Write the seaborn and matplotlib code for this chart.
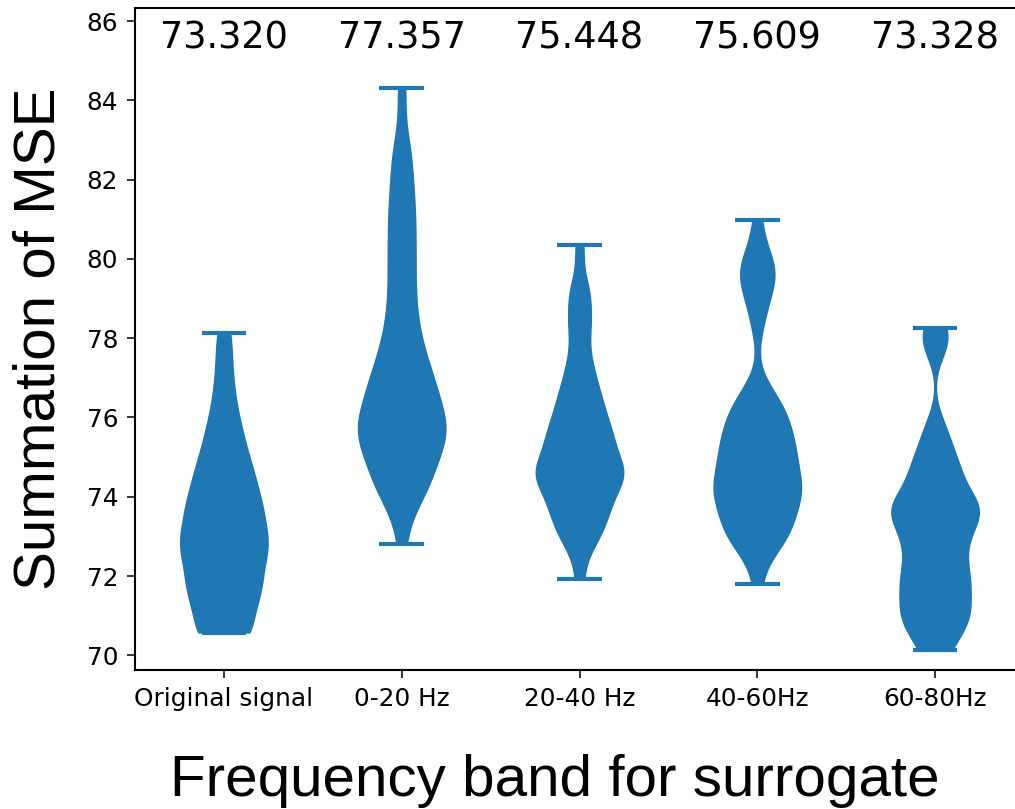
import numpy as np
import pandas as pd
import matplotlib
matplotlib.use("Agg")
import matplotlib.pyplot as plt
import seaborn as sns

# Categories and mean labels shown above each violin
categories = ["Original signal", "0-20 Hz", "20-40 Hz", "40-60Hz", "60-80Hz"]
mean_labels = ["73.320", "77.357", "75.448", "75.609", "73.328"]

# Sample values (summation of MSE) for each frequency band
original_signal = [70.56, 70.56, 70.56, 70.56, 71.29, 71.35, 71.38, 71.51, 71.89, 71.93, 72.04, 72.19,
                   72.50, 72.60, 72.65, 72.87, 72.92, 73.02, 73.18, 73.38, 73.66, 73.68, 73.75, 73.96,
                   74.16, 74.44, 74.46, 74.80, 74.90, 75.21, 75.56, 75.77, 76.25, 76.74, 77.41, 78.14]
band_0_20 = [72.82, 74.25, 74.26, 74.28, 74.28, 74.29, 75.17, 75.26, 75.26, 75.47, 75.49, 75.61,
             75.66, 75.80, 76.07, 76.09, 76.25, 76.65, 76.77, 76.78, 77.07, 77.29, 77.32, 77.98,
             78.07, 78.43, 79.17, 79.25, 80.11, 80.17, 80.84, 81.33, 81.60, 82.49, 82.71, 84.32]
band_20_40 = [71.93, 72.96, 72.96, 72.97, 73.53, 73.59, 73.63, 73.86, 73.86, 74.32, 74.41, 74.51,
              74.54, 74.54, 74.59, 74.59, 74.81, 75.09, 75.18, 75.19, 75.51, 75.59, 75.65, 75.85,
              75.97, 76.31, 76.45, 76.57, 76.92, 77.24, 77.54, 78.30, 78.36, 79.10, 79.19, 80.34]
band_40_60 = [71.79, 72.98, 73.01, 73.02, 73.03, 73.03, 73.21, 73.79, 73.88, 73.90, 74.13, 74.15,
              74.17, 74.18, 74.22, 74.58, 74.74, 74.95, 75.07, 75.09, 75.31, 75.34, 75.52, 75.81,
              75.85, 76.06, 76.39, 76.40, 76.49, 78.40, 79.01, 79.42, 79.76, 79.84, 79.85, 80.99]
band_60_80 = [70.13, 70.13, 70.60, 70.96, 70.96, 70.96, 70.96, 71.21, 71.62, 71.81, 71.83, 71.85,
              72.07, 72.21, 72.56, 72.74, 72.87, 72.99, 73.17, 73.57, 73.61, 73.61, 73.73, 73.74,
              73.77, 73.84, 74.07, 74.57, 74.77, 74.79, 74.83, 75.62, 75.62, 77.93, 77.93, 78.27]

arrays = [np.array(a) for a in (original_signal, band_0_20, band_20_40, band_40_60, band_60_80)]

c = "#1f77b4"
sns.set_theme(style="ticks")
plt.rcParams["font.family"] = ["DejaVu Sans"]
for k in ["text.color", "axes.labelcolor", "xtick.color", "ytick.color", "axes.edgecolor"]:
    plt.rcParams[k] = "black"

fig = plt.figure(figsize=(10.15, 8.09), dpi=100)
ax = fig.add_axes([135 / 1015, 1 - 670 / 809, 889 / 1015, 662 / 809])

df = pd.DataFrame({"band": np.repeat(categories, [len(a) for a in arrays]),
                   "mse": np.concatenate(arrays)})
sns.violinplot(data=df, x="band", y="mse", order=categories, color=c, saturation=1,
               width=0.5, cut=0, inner=None, linewidth=0, density_norm="width",
               bw_adjust=0.5, ax=ax)

# extrema bars (min / max) and centre line, like matplotlib's showextrema
for i, a in enumerate(arrays):
    ax.vlines(i, a.min(), a.max(), color=c, lw=2.2)
    ax.hlines([a.min(), a.max()], i - 0.125, i + 0.125, color=c, lw=3)

for i, m in enumerate(mean_labels):
    ax.text(i, 85.3, m, ha="center", va="baseline", fontsize=26.4)

ax.set_xlim(-0.5, 4.5)
ax.set_ylim(69.63, 86.33)
ax.set_yticks(range(70, 87, 2))
ax.tick_params(labelsize=17.8, length=6, width=1.1, pad=6, color="black")
ax.set_xlabel("Frequency band for surrogate", fontsize=42, fontfamily="Liberation Sans")
ax.set_ylabel("Summation of MSE", fontsize=42, fontfamily="Liberation Sans")
ax.xaxis.set_label_coords(0.4725, -0.127)
ax.yaxis.set_label_coords(-0.077, 0.5)
for s in ax.spines.values():
    s.set_linewidth(1.5)
    s.set_color("black")
ax.spines["right"].set_visible(False)

fig.savefig("out.png", dpi=100)
